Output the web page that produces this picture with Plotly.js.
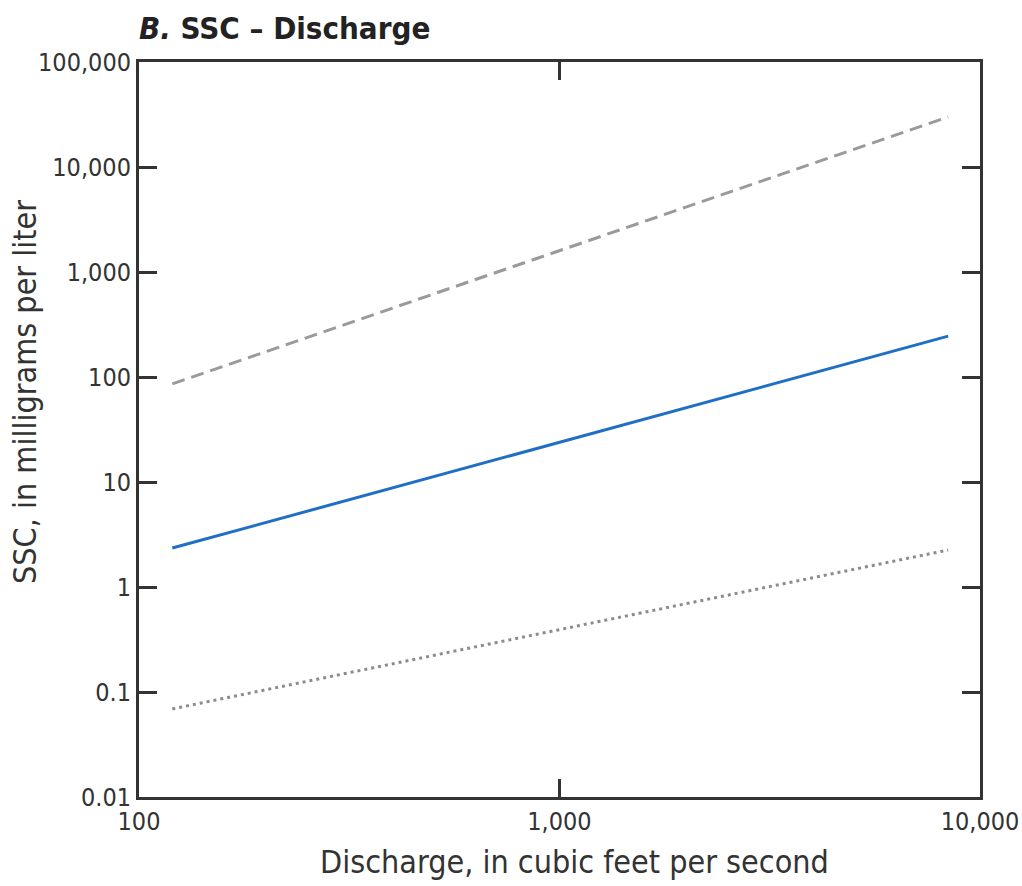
<!DOCTYPE html>
<html>
<head>
<meta charset="utf-8">
<script src="https://cdn.plot.ly/plotly-3.0.1.min.js"></script>
<style>html,body{margin:0;padding:0;background:#fff;}#chart{width:1022px;height:886px;}</style>
</head>
<body>
<div id="chart"></div>
<script>
// Data (log-log regression lines)
var discharge = [120, 8400];
var sscFit = [2.35, 245];
var sscUpper = [86, 30000];
var sscLower = [0.069, 2.25];

var xTickVals = [100, 1000, 10000];
var xTickText = ["100", "1,000", "10,000"];
var yTickVals = [0.01, 0.1, 1, 10, 100, 1000, 10000, 100000];
var yTickText = ["0.01", "0.1", "1", "10", "100", "1,000", "10,000", "100,000"];

var FONT = '"Liberation Sans Narrow", "DejaVu Sans Condensed", "Arial Narrow", sans-serif';

var traces = [
  {x: discharge, y: sscUpper, mode: 'lines', line: {color: '#9a9a9a', width: 3, dash: '13px,7px'}, hoverinfo: 'skip'},
  {x: discharge, y: sscFit, mode: 'lines', line: {color: '#1f6fc5', width: 3}, hoverinfo: 'skip'},
  {x: discharge, y: sscLower, mode: 'lines', line: {color: '#8c8c8c', width: 3, dash: '3px,4px'}, hoverinfo: 'skip'}
];

var axisCommon = {
  type: 'log',
  showgrid: false,
  zeroline: false,
  showline: true,
  linecolor: '#333',
  linewidth: 3,
  mirror: 'ticks',
  ticks: 'inside',
  ticklen: 18,
  tickwidth: 3,
  tickcolor: '#333',
  tickmode: 'array',
  tickfont: {family: FONT, size: 25, color: '#333'}
};

var layout = {
  width: 1022,
  height: 886,
  margin: {l: 139, r: 42, t: 62, b: 89},
  paper_bgcolor: '#fff',
  plot_bgcolor: '#fff',
  showlegend: false,
  title: {
    text: '<b><i>B.</i> SSC – Discharge</b>',
    font: {family: FONT, size: 31, color: '#222'},
    x: 0, xref: 'paper', xanchor: 'left',
    y: 0.968, yref: 'container', yanchor: 'middle'
  },
  xaxis: Object.assign({}, axisCommon, {
    range: [2, 4],
    tickvals: xTickVals,
    ticktext: xTickText
  }),
  yaxis: Object.assign({}, axisCommon, {
    range: [-2, 5],
    tickvals: yTickVals,
    ticktext: yTickText
  }),
  annotations: [
    {text: 'Discharge, in cubic feet per second', xref: 'paper', yref: 'paper', x: 0.518, y: -0.0884,
     xanchor: 'center', yanchor: 'middle', showarrow: false, font: {family: FONT, size: 32, color: '#333'}},
    {text: 'SSC, in milligrams per liter', xref: 'paper', yref: 'paper', x: -0.1356, y: 0.551,
     xanchor: 'center', yanchor: 'middle', textangle: -90, showarrow: false, font: {family: FONT, size: 32, color: '#333'}}
  ]
};

Plotly.newPlot('chart', traces, layout, {displayModeBar: false, staticPlot: true});
</script>
</body>
</html>
